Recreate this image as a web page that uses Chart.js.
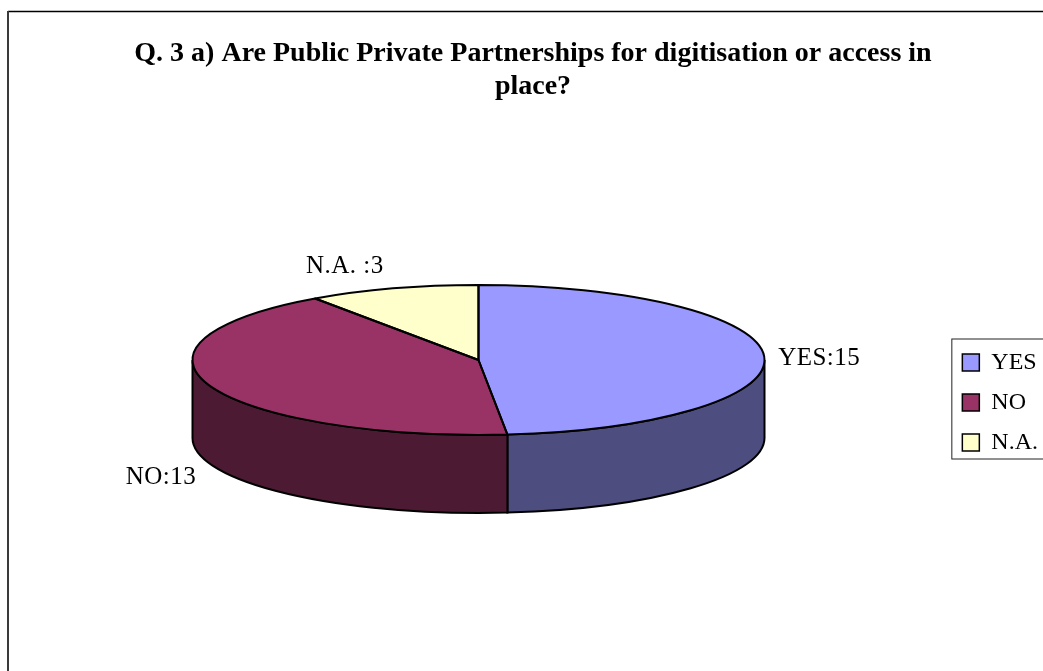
<!DOCTYPE html>
<html>
<head>
<meta charset="utf-8">
<style>html,body{margin:0;padding:0;background:#fff}canvas{display:block}</style>
<script src="https://cdn.jsdelivr.net/npm/chart.js@4"></script>
</head>
<body>
<canvas id="c" width="1043" height="671"></canvas>
<script>
const categories = ['YES', 'NO', 'N.A.'];
const values = [15, 13, 3];
const pointLabels = ['YES:15', 'NO:13', 'N.A. :3'];
const topColors = ['#9999FF', '#993366', '#FFFFCC'];
const sideColors = ['#4D4D80', '#4D1A33', '#808066'];
const titleLines = ['Q. 3 a) Are Public Private Partnerships for digitisation or access in', 'place?'];

const FONT = '"Liberation Serif", "Times New Roman", serif';
const PIE = {cx: 478.5, cy: 360, rx: 286, ry: 75, depth: 78};
const labelOffsets = [
  {dx: 14, dy: 2, align: 'left'},
  {dx: -14, dy: 13, align: 'right', wall: true},
  {dx: -48, dy: -22.5, align: 'center'}
];

function wallRange(a, b) {
  const T = Math.PI * 2;
  let s = a, e = b;
  while (s < -1e-6) { s += T; e += T; }
  while (s >= T) { s -= T; e -= T; }
  const parts = [];
  [[0, Math.PI], [T, T + Math.PI]].forEach(([lo, hi]) => {
    const p = Math.max(s, lo), q = Math.min(e, hi);
    if (q > p) parts.push([p, q]);
  });
  return parts;
}

const pie3d = {
  id: 'pie3d',
  beforeDraw(chart) {
    const ctx = chart.ctx;
    ctx.save();
    ctx.fillStyle = '#fff';
    ctx.fillRect(0, 0, chart.width, chart.height);
    ctx.strokeStyle = '#000';
    ctx.lineWidth = 1.5;
    ctx.beginPath();
    ctx.moveTo(chart.width, 11.5);
    ctx.lineTo(8, 11.5);
    ctx.stroke();
    ctx.strokeStyle = '#3a3a3a';
    ctx.lineWidth = 2;
    ctx.beginPath();
    ctx.moveTo(8, 11);
    ctx.lineTo(8, chart.height);
    ctx.stroke();
    const hb = chart.legend.legendHitBoxes;
    const top = hb[0].top - 12, bot = hb[hb.length - 1].top + hb[hb.length - 1].height + 4;
    const left = hb[0].left - 11;
    ctx.strokeStyle = '#222';
    ctx.lineWidth = 1;
    ctx.strokeRect(left + .5, top + .5, chart.width + 5 - left, bot - top);
    ctx.restore();
  },
  beforeDatasetsDraw(chart) {
    const ctx = chart.ctx, arcs = chart.getDatasetMeta(0).data;
    const {cx, cy, rx, ry, depth} = PIE;
    ctx.save();
    arcs.forEach((arc, i) => {
      wallRange(arc.startAngle, arc.endAngle).forEach(([p, q]) => {
        ctx.beginPath();
        ctx.ellipse(cx, cy, rx, ry, 0, p, q, false);
        ctx.ellipse(cx, cy + depth, rx, ry, 0, q, p, true);
        ctx.closePath();
        ctx.fillStyle = sideColors[i];
        ctx.fill();
        ctx.lineWidth = 2;
        ctx.strokeStyle = '#000';
        ctx.stroke();
      });
    });
    ctx.restore();
    const a0 = arcs[0], R = a0.outerRadius;
    ctx.save();
    ctx.translate(cx, cy);
    ctx.scale(rx / R, ry / R);
    ctx.translate(-a0.x, -a0.y);
  },
  afterDatasetsDraw(chart) {
    const ctx = chart.ctx, arcs = chart.getDatasetMeta(0).data;
    const {cx, cy, rx, ry, depth} = PIE;
    ctx.restore();
    ctx.save();
    ctx.strokeStyle = '#000';
    ctx.lineWidth = 2;
    ctx.lineJoin = 'round';
    arcs.forEach(arc => {
      ctx.beginPath();
      ctx.moveTo(cx, cy);
      ctx.ellipse(cx, cy, rx, ry, 0, arc.startAngle, arc.endAngle, false);
      ctx.closePath();
      ctx.stroke();
    });
    ctx.fillStyle = '#000';
    ctx.font = '25px ' + FONT;
    ctx.letterSpacing = '0.5px';
    ctx.textBaseline = 'middle';
    arcs.forEach((arc, i) => {
      const mid = (arc.startAngle + arc.endAngle) / 2, o = labelOffsets[i];
      const x = cx + Math.cos(mid) * rx + o.dx;
      const y = cy + Math.sin(mid) * ry + (o.wall ? depth : 0) + o.dy;
      ctx.textAlign = o.align;
      ctx.fillText(pointLabels[i], x, y);
    });
    ctx.restore();
  }
};

new Chart(document.getElementById('c'), {
  type: 'pie',
  data: {
    labels: categories,
    datasets: [{data: values, backgroundColor: topColors, borderWidth: 0, clip: false}]
  },
  options: {
    responsive: false,
    animation: false,
    layout: {padding: {left: 18, right: -5}},
    plugins: {
      tooltip: {enabled: false},
      title: {
        display: true,
        text: titleLines,
        color: '#000',
        font: {family: FONT, size: 28, weight: 'bold', lineHeight: 1.2},
        padding: {top: 36.5, bottom: 30.3}
      },
      legend: {
        display: true,
        position: 'right',
        fullSize: false,
        onClick: null,
        labels: {
          color: '#000',
          font: {family: FONT, size: 24},
          boxWidth: 17,
          boxHeight: 17,
          padding: 16,
          generateLabels(chart) {
            return Chart.overrides.pie.plugins.legend.labels.generateLabels(chart)
              .map(item => Object.assign(item, {lineWidth: 1.5, strokeStyle: '#000'}));
          }
        }
      }
    },
    elements: {arc: {borderWidth: 0}}
  },
  plugins: [pie3d]
});
</script>
</body>
</html>
